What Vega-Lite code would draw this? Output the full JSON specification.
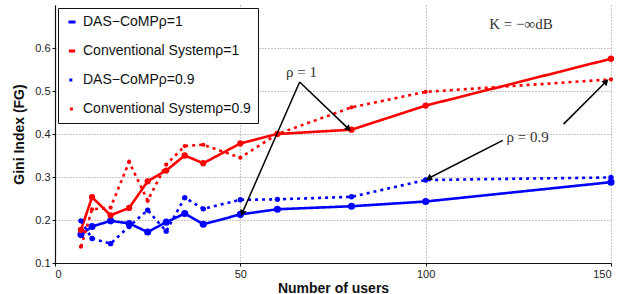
{
  "$schema": "https://vega.github.io/schema/vega-lite/v6.json",
  "width": 556,
  "height": 258,
  "autosize": {"type": "none"},
  "padding": {"left": 55, "top": 5, "right": 8, "bottom": 31},
  "background": "white",
  "config": {
    "view": {"stroke": null},
    "font": "Liberation Sans",
    "axis": {
      "labelFont": "Liberation Sans",
      "labelFontSize": 11,
      "labelColor": "#222",
      "titleFont": "Liberation Sans",
      "titleFontWeight": "bold",
      "titleFontSize": 14,
      "titleColor": "#111",
      "domainColor": "#111",
      "domainWidth": 1.2,
      "tickColor": "#111",
      "tickSize": 3,
      "grid": true,
      "gridColor": "#777",
      "gridDash": [1, 2],
      "gridWidth": 0.8
    }
  },
  "datasets": {
    "curves": [
      {"series": "DAS−CoMPρ=1", "users": 7, "gini": 0.166},
      {"series": "DAS−CoMPρ=1", "users": 10, "gini": 0.185},
      {"series": "DAS−CoMPρ=1", "users": 15, "gini": 0.198},
      {"series": "DAS−CoMPρ=1", "users": 20, "gini": 0.192},
      {"series": "DAS−CoMPρ=1", "users": 25, "gini": 0.172},
      {"series": "DAS−CoMPρ=1", "users": 30, "gini": 0.195},
      {"series": "DAS−CoMPρ=1", "users": 35, "gini": 0.215},
      {"series": "DAS−CoMPρ=1", "users": 40, "gini": 0.19},
      {"series": "DAS−CoMPρ=1", "users": 50, "gini": 0.213},
      {"series": "DAS−CoMPρ=1", "users": 60, "gini": 0.225},
      {"series": "DAS−CoMPρ=1", "users": 80, "gini": 0.232},
      {"series": "DAS−CoMPρ=1", "users": 100, "gini": 0.243},
      {"series": "DAS−CoMPρ=1", "users": 150, "gini": 0.288},
      {"series": "Conventional Systemρ=1", "users": 7, "gini": 0.177},
      {"series": "Conventional Systemρ=1", "users": 10, "gini": 0.253},
      {"series": "Conventional Systemρ=1", "users": 15, "gini": 0.211},
      {"series": "Conventional Systemρ=1", "users": 20, "gini": 0.228},
      {"series": "Conventional Systemρ=1", "users": 25, "gini": 0.29},
      {"series": "Conventional Systemρ=1", "users": 30, "gini": 0.315},
      {"series": "Conventional Systemρ=1", "users": 35, "gini": 0.35},
      {"series": "Conventional Systemρ=1", "users": 40, "gini": 0.332},
      {"series": "Conventional Systemρ=1", "users": 50, "gini": 0.378},
      {"series": "Conventional Systemρ=1", "users": 60, "gini": 0.4},
      {"series": "Conventional Systemρ=1", "users": 80, "gini": 0.41},
      {"series": "Conventional Systemρ=1", "users": 100, "gini": 0.466},
      {"series": "Conventional Systemρ=1", "users": 150, "gini": 0.575},
      {"series": "DAS−CoMPρ=0.9", "users": 7, "gini": 0.198},
      {"series": "DAS−CoMPρ=0.9", "users": 10, "gini": 0.157},
      {"series": "DAS−CoMPρ=0.9", "users": 15, "gini": 0.145},
      {"series": "DAS−CoMPρ=0.9", "users": 20, "gini": 0.185},
      {"series": "DAS−CoMPρ=0.9", "users": 25, "gini": 0.223},
      {"series": "DAS−CoMPρ=0.9", "users": 30, "gini": 0.174},
      {"series": "DAS−CoMPρ=0.9", "users": 35, "gini": 0.252},
      {"series": "DAS−CoMPρ=0.9", "users": 40, "gini": 0.226},
      {"series": "DAS−CoMPρ=0.9", "users": 50, "gini": 0.247},
      {"series": "DAS−CoMPρ=0.9", "users": 60, "gini": 0.248},
      {"series": "DAS−CoMPρ=0.9", "users": 80, "gini": 0.254},
      {"series": "DAS−CoMPρ=0.9", "users": 100, "gini": 0.293},
      {"series": "DAS−CoMPρ=0.9", "users": 150, "gini": 0.299},
      {"series": "Conventional Systemρ=0.9", "users": 7, "gini": 0.138},
      {"series": "Conventional Systemρ=0.9", "users": 10, "gini": 0.225},
      {"series": "Conventional Systemρ=0.9", "users": 15, "gini": 0.229},
      {"series": "Conventional Systemρ=0.9", "users": 20, "gini": 0.335},
      {"series": "Conventional Systemρ=0.9", "users": 25, "gini": 0.245},
      {"series": "Conventional Systemρ=0.9", "users": 30, "gini": 0.329},
      {"series": "Conventional Systemρ=0.9", "users": 35, "gini": 0.372},
      {"series": "Conventional Systemρ=0.9", "users": 40, "gini": 0.375},
      {"series": "Conventional Systemρ=0.9", "users": 50, "gini": 0.345},
      {"series": "Conventional Systemρ=0.9", "users": 60, "gini": 0.4},
      {"series": "Conventional Systemρ=0.9", "users": 80, "gini": 0.462},
      {"series": "Conventional Systemρ=0.9", "users": 100, "gini": 0.498},
      {"series": "Conventional Systemρ=0.9", "users": 150, "gini": 0.527}
    ],
    "arrows": [
      {"x0": 66, "y0": 0.521, "x1": 50.5, "y1": 0.216, "angle": 204},
      {"x0": 66, "y0": 0.521, "x1": 79.2, "y1": 0.412, "angle": 134},
      {"x0": 120.8, "y0": 0.385, "x1": 100.8, "y1": 0.297, "angle": 243},
      {"x0": 137.2, "y0": 0.423, "x1": 148.7, "y1": 0.522, "angle": 45}
    ],
    "labels": [
      {"x": 66.5, "y": 0.545, "text": "ρ = 1"},
      {"x": 127.5, "y": 0.392, "text": "ρ = 0.9"},
      {"x": 125.7, "y": 0.655, "text": "K = −∞dB"}
    ]
  },
  "layer": [
    {
      "data": {"name": "curves"},
      "mark": {"type": "line", "strokeWidth": 2.6, "strokeCap": "butt"},
      "encoding": {
        "x": {
          "field": "users", "type": "quantitative",
          "scale": {"domain": [0, 150], "nice": false, "zero": false},
          "axis": {"values": [0, 50, 100, 150], "title": "Number of users", "titlePadding": 2, "labelPadding": 2}
        },
        "y": {
          "field": "gini", "type": "quantitative",
          "scale": {"domain": [0.1, 0.7], "nice": false, "zero": false},
          "axis": {"values": [0.1, 0.2, 0.3, 0.4, 0.5, 0.6], "format": ".1f", "title": "Gini Index (FG)", "titlePadding": 8, "labelPadding": 2}
        },
        "color": {
          "field": "series", "type": "nominal",
          "scale": {
            "domain": ["DAS−CoMPρ=1", "Conventional Systemρ=1", "DAS−CoMPρ=0.9", "Conventional Systemρ=0.9"],
            "range": ["#0000ff", "#ff0000", "#0000ff", "#ff0000"]
          },
          "legend": {
            "title": null,
            "orient": "top-left",
            "offset": 3,
            "padding": 7,
            "strokeColor": "#111",
            "fillColor": "white",
            "labelFont": "Liberation Sans",
            "labelFontSize": 14,
            "labelColor": "#111",
            "labelLimit": 300,
            "rowPadding": 15,
            "symbolType": "stroke",
            "symbolSize": 500,
            "symbolStrokeWidth": 3
          }
        },
        "strokeDash": {
          "field": "series", "type": "nominal",
          "scale": {
            "domain": ["DAS−CoMPρ=1", "Conventional Systemρ=1", "DAS−CoMPρ=0.9", "Conventional Systemρ=0.9"],
            "range": [[1, 0], [1, 0], [3, 4], [3, 4]]
          },
          "legend": {
            "title": null,
            "orient": "top-left",
            "offset": 3,
            "padding": 7,
            "strokeColor": "#111",
            "fillColor": "white",
            "labelFont": "Liberation Sans",
            "labelFontSize": 14,
            "labelColor": "#111",
            "labelLimit": 300,
            "rowPadding": 15,
            "symbolType": "stroke",
            "symbolSize": 500,
            "symbolStrokeWidth": 3
          }
        }
      }
    },
    {
      "data": {"name": "curves"},
      "mark": {"type": "point", "filled": true, "opacity": 1, "shape": "circle"},
      "encoding": {
        "x": {"field": "users", "type": "quantitative"},
        "y": {"field": "gini", "type": "quantitative"},
        "color": {"field": "series", "type": "nominal"},
        "size": {
          "field": "series", "type": "nominal",
          "scale": {
            "domain": ["DAS−CoMPρ=1", "Conventional Systemρ=1", "DAS−CoMPρ=0.9", "Conventional Systemρ=0.9"],
            "range": [50, 18, 80, 22]
          },
          "legend": null
        }
      }
    },
    {
      "data": {"name": "arrows"},
      "mark": {"type": "rule", "color": "black", "strokeWidth": 1.5},
      "encoding": {
        "x": {"field": "x0", "type": "quantitative"},
        "y": {"field": "y0", "type": "quantitative"},
        "x2": {"field": "x1"},
        "y2": {"field": "y1"}
      }
    },
    {
      "data": {"name": "arrows"},
      "mark": {"type": "point", "shape": "triangle-up", "filled": true, "color": "black", "opacity": 1, "size": 50},
      "encoding": {
        "x": {"field": "x1", "type": "quantitative"},
        "y": {"field": "y1", "type": "quantitative"},
        "angle": {"field": "angle", "type": "quantitative", "scale": null}
      }
    },
    {
      "data": {"name": "labels"},
      "mark": {"type": "text", "font": "Liberation Serif", "fontSize": 15, "color": "#333"},
      "encoding": {
        "x": {"field": "x", "type": "quantitative"},
        "y": {"field": "y", "type": "quantitative"},
        "text": {"field": "text"}
      }
    }
  ]
}
